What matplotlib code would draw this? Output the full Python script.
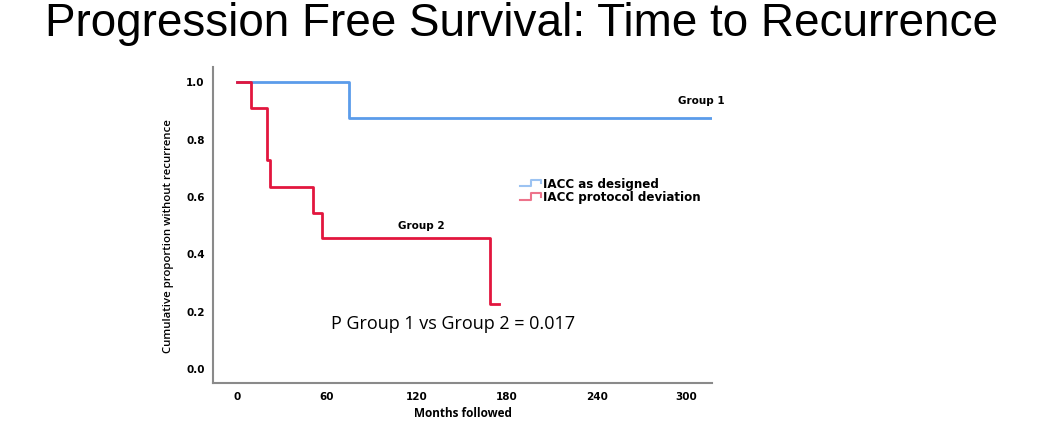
import matplotlib
matplotlib.use("Agg")
import matplotlib.pyplot as plt
from matplotlib.legend_handler import HandlerBase
from matplotlib.lines import Line2D

# ---- data ----
group1_times = [0, 75, 316]
group1_surv = [1.0, 0.875, 0.875]
group2_times = [0, 9, 20, 22, 51, 57, 169, 175]
group2_surv = [1.0, 0.909, 0.727, 0.636, 0.545, 0.455, 0.227, 0.227]
series_labels = ["IACC as designed", "IACC protocol deviation"]
x_ticks = [0, 60, 120, 180, 240, 300]
y_ticks = [0.0, 0.2, 0.4, 0.6, 0.8, 1.0]

BLUE = "#5B9CEA"
RED = "#E2163E"

fig = plt.figure(figsize=(10.5, 4.23), dpi=100)
fig.text(0.497, 0.915, "Progression Free Survival: Time to Recurrence",
         ha="center", va="baseline", fontsize=33, family="Liberation Sans")

ax = fig.add_axes([0.2029, 0.0946, 0.4752, 0.7477])
ax.step(group1_times, group1_surv, where="post", color=BLUE, lw=2, label=series_labels[0])
ax.step(group2_times, group2_surv, where="post", color=RED, lw=2, label=series_labels[1])

ax.set_xlim(-16, 317)
ax.set_ylim(-0.049, 1.054)
ax.set_xticks(x_ticks)
ax.set_yticks(y_ticks)
ax.set_yticklabels([f"{v:.1f}" for v in y_ticks])
ax.tick_params(axis="y", length=0, labelsize=7.5, pad=6)
ax.tick_params(axis="x", length=0, labelsize=7.5, pad=6.5)
for lab in ax.get_xticklabels() + ax.get_yticklabels():
    lab.set_fontweight("bold")
for s in ["top", "right"]:
    ax.spines[s].set_visible(False)
for s in ["left", "bottom"]:
    ax.spines[s].set_color("#8a8a8a")
    ax.spines[s].set_linewidth(1.5)

ax.set_xlabel("Months followed", fontsize=8.5, fontweight="bold",
              family="Open Sans", va="center")
ax.xaxis.set_label_coords(0.5, -0.097)
ax.set_ylabel("Cumulative proportion without recurrence", fontsize=8.2,
              fontweight="semibold", family="Open Sans")
ax.yaxis.set_label_coords(-0.078, 0.463)

ax.text(310, 0.933, "Group 1", fontsize=7.5, fontweight="bold", ha="center",
        va="center", clip_on=False)
ax.text(123, 0.497, "Group 2", fontsize=7.5, fontweight="bold", ha="center",
        va="center")
ax.text(144, 0.157, "P Group 1 vs Group 2 = 0.017", fontsize=13, family="Open Sans",
        ha="center", va="center")


class StepHandler(HandlerBase):
    def create_artists(self, legend, orig_handle, xdescent, ydescent, width,
                       height, fontsize, trans):
        x0, y0 = -xdescent, -ydescent
        xs = [x0, x0 + 0.55 * width, x0 + 0.55 * width, x0 + width, x0 + width]
        ys = [y0 + 0.15 * height, y0 + 0.15 * height, y0 + 0.95 * height,
              y0 + 0.95 * height, y0 + 0.5 * height]
        ln = Line2D(xs, ys, color=orig_handle.get_color(), lw=1.5, alpha=0.6,
                    transform=trans)
        return [ln]


handles, labels = ax.get_legend_handles_labels()
leg = fig.legend(handles, labels, loc="upper left",
                 bbox_to_anchor=(0.495, 0.58), frameon=False,
                 handler_map={h: StepHandler() for h in handles},
                 prop={"weight": "bold", "size": 8.6}, handlelength=1.75,
                 handletextpad=0.2, labelspacing=0.02, borderpad=0,
                 borderaxespad=0)

fig.savefig("out.png", dpi=100)
